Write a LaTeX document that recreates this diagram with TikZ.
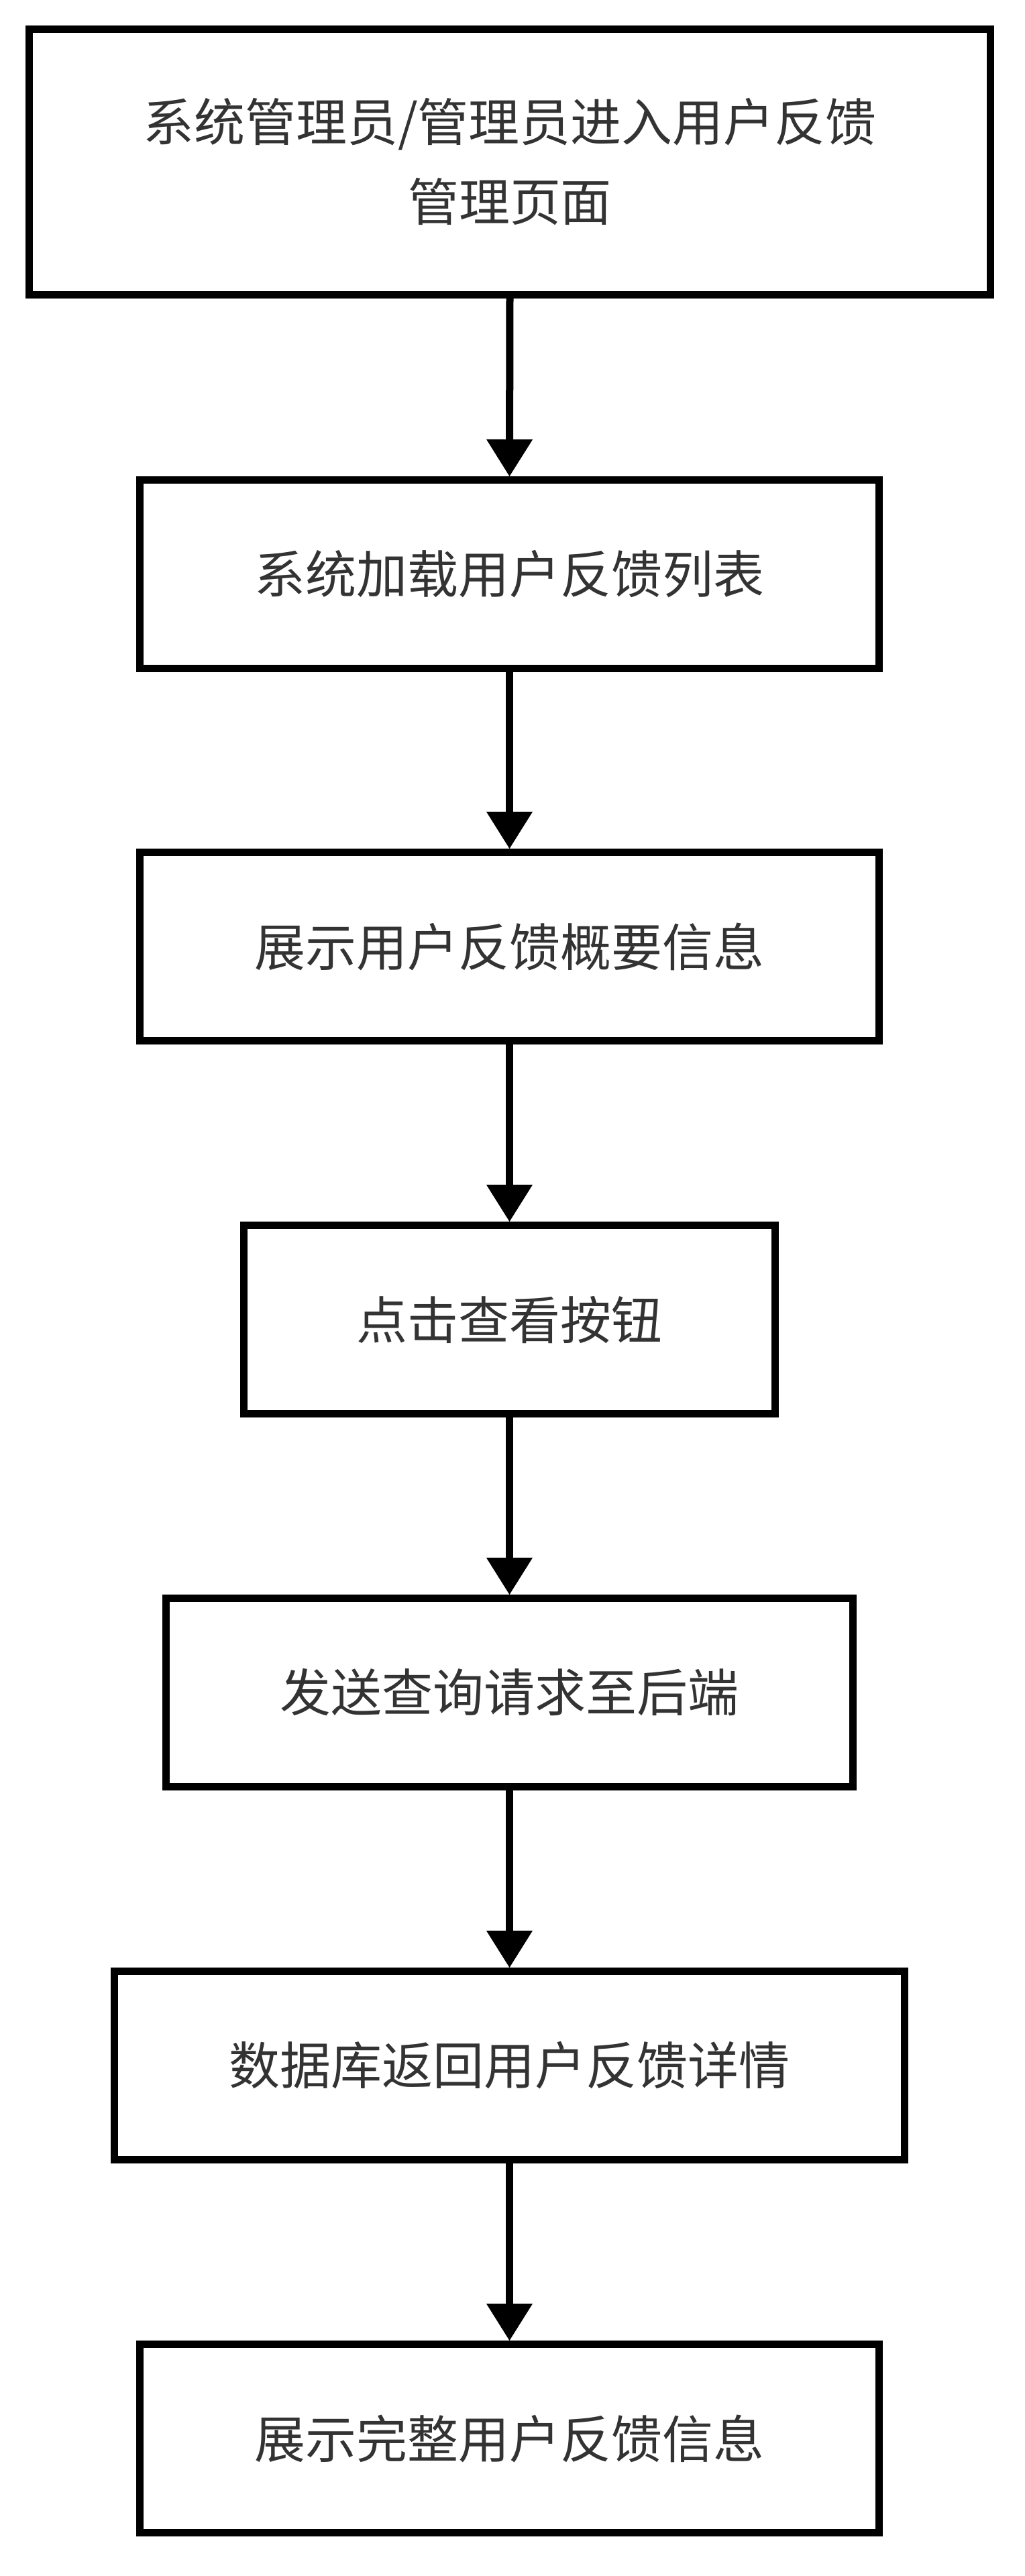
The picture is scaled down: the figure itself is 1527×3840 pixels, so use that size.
\documentclass[tikz,border=0pt]{standalone}
\usepackage{fontspec}
\newfontfamily\cjkfont{Noto Sans CJK SC}
\usetikzlibrary{arrows.meta}
\definecolor{txtgray}{HTML}{333333}
\tikzset{
  stepbox/.style={draw=black, line width=5.5pt, fill=white, rectangle,
    minimum height=140.5pt, inner sep=0pt, align=center,
    text=txtgray, font=\cjkfont\fontsize{38pt}{59.5pt}\selectfont},
  flowarrow/.style={draw=black, line width=5.5pt,
    -{Triangle[width=34.5pt,length=27.5pt,line width=0pt]}}
}
\begin{document}
\begin{tikzpicture}[x=0.5pt,y=-0.5pt]
\useasboundingbox (0,0) rectangle (1527,3840);
\node[stepbox, minimum width=716.5pt, minimum height=198pt] (n1) at (760,241.5)
  {系统管理员/管理员进入用户反馈\\管理页面};
\node[stepbox, minimum width=551pt] (n2) at (759.5,856) {系统加载用户反馈列表};
\node[stepbox, minimum width=551pt] (n3) at (759.5,1411) {展示用户反馈概要信息};
\node[stepbox, minimum width=396pt] (n4) at (759.5,1967) {点击查看按钮};
\node[stepbox, minimum width=512pt] (n5) at (759.5,2523) {发送查询请求至后端};
\node[stepbox, minimum width=589pt] (n6) at (759.5,3079) {数据库返回用户反馈详情};
\node[stepbox, minimum width=551pt] (n7) at (759.5,3635) {展示完整用户反馈信息};
\draw[flowarrow] (n1.south) -- (n2.north);
\draw[flowarrow] (n2.south) -- (n3.north);
\draw[flowarrow] (n3.south) -- (n4.north);
\draw[flowarrow] (n4.south) -- (n5.north);
\draw[flowarrow] (n5.south) -- (n6.north);
\draw[flowarrow] (n6.south) -- (n7.north);
\end{tikzpicture}
\end{document}
